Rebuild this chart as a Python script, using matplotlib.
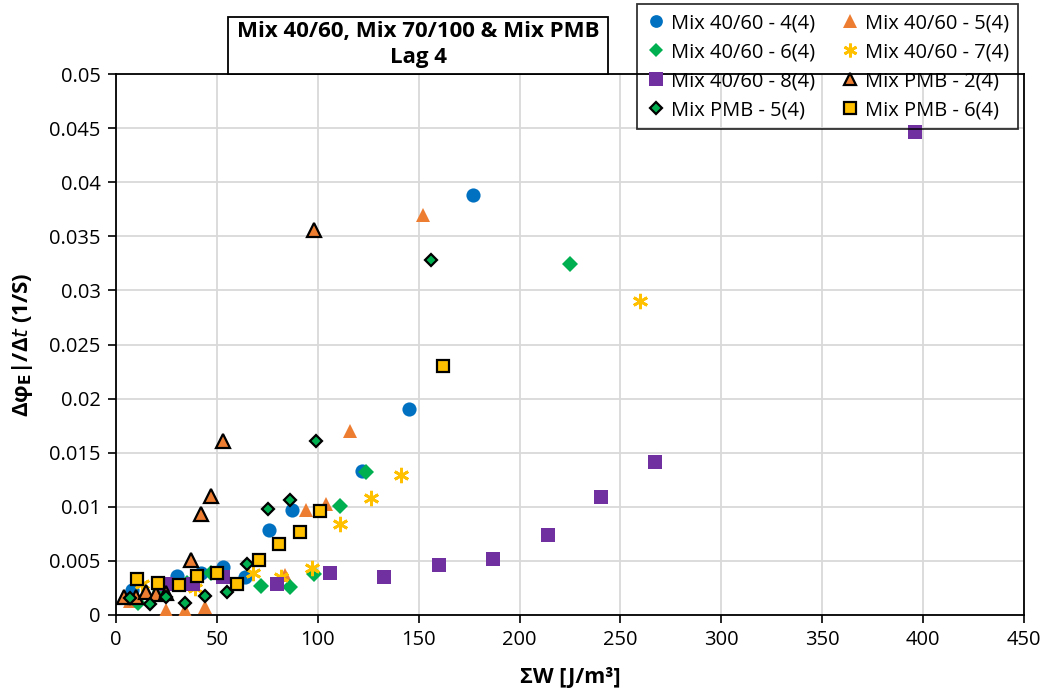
import matplotlib
matplotlib.use("Agg")
import matplotlib.pyplot as plt
from matplotlib.patches import Rectangle

plt.rcParams['font.family'] = ['Open Sans', 'DejaVu Sans']
plt.rcParams['mathtext.fontset'] = 'dejavusans'

# ---------------- data ----------------
m4_x = [8, 30, 42, 53, 64, 76, 87, 122, 145, 177]
m4_y = [0.0023, 0.0036, 0.0039, 0.0044, 0.0035, 0.0079, 0.0097, 0.0133, 0.0190, 0.0388]

m5_x = [7, 25, 34, 44, 84, 94, 104, 116, 152]
m5_y = [0.0013, 0.0005, 0.0005, 0.0007, 0.0037, 0.0097, 0.0103, 0.0170, 0.0370]

m6_x = [11, 22, 35, 47, 72, 86, 98, 111, 124, 225]
m6_y = [0.0011, 0.0022, 0.0030, 0.0039, 0.0027, 0.0026, 0.0038, 0.0101, 0.0132, 0.0324]

m7_x = [13, 39, 68, 82, 97, 111, 126.5, 141, 259.5]
m7_y = [0.0029, 0.0025, 0.0039, 0.0035, 0.0043, 0.0084, 0.0108, 0.0129, 0.0290]

m8_x = [25, 38, 53, 80, 106, 133, 160, 187, 214, 240.5, 267, 396]
m8_y = [0.0029, 0.0029, 0.0035, 0.0029, 0.0039, 0.0035, 0.0046, 0.0052, 0.0074, 0.0109, 0.0141, 0.0446]

p2_x = [4, 10, 15, 20, 25, 37, 42, 47, 53, 98]
p2_y = [0.0017, 0.0017, 0.0021, 0.0019, 0.0020, 0.0051, 0.0093, 0.0110, 0.0161, 0.0356]

p5_x = [7, 17, 25, 34, 44, 55, 65, 75.5, 86, 99, 156]
p5_y = [0.0016, 0.0010, 0.0017, 0.0011, 0.0018, 0.0021, 0.0047, 0.0098, 0.0106, 0.0161, 0.0328]

p6_x = [10.5, 21, 31, 40, 50, 60, 71, 81, 91, 101, 162]
p6_y = [0.0033, 0.0030, 0.0028, 0.0036, 0.0039, 0.0029, 0.0051, 0.0066, 0.0077, 0.0096, 0.0230]

labels = ["Mix 40/60 - 4(4)", "Mix 40/60 - 5(4)", "Mix 40/60 - 6(4)", "Mix 40/60 - 7(4)",
          "Mix 40/60 - 8(4)", "Mix PMB - 2(4)", "Mix PMB - 5(4)", "Mix PMB - 6(4)"]
x_ticks = [0, 50, 100, 150, 200, 250, 300, 350, 400, 450]
y_ticks = [0, 0.005, 0.01, 0.015, 0.02, 0.025, 0.03, 0.035, 0.04, 0.045, 0.05]
y_tick_labels = ["0", "0.005", "0.01", "0.015", "0.02", "0.025", "0.03", "0.035", "0.04", "0.045", "0.05"]

# ---------------- figure ----------------
W, H = 1046, 696
fig = plt.figure(figsize=(W / 100, H / 100), dpi=100)
ax = fig.add_axes([116 / W, 1 - 615 / H, (1024 - 116) / W, (615 - 74) / H])

star = (6, 2, 0)
series = [
    (m4_x, m4_y, dict(marker='o', color='#0070C0', ms=10.2, mec='#0070C0', mew=0)),
    (m5_x, m5_y, dict(marker='^', color='#ED7D31', ms=10.5, mec='#ED7D31', mew=0)),
    (m6_x, m6_y, dict(marker='D', color='#00B050', ms=7.8, mec='#00B050', mew=0)),
    (m7_x, m7_y, dict(marker=star, color='#FFC000', ms=11, mec='#FFC000', mew=2)),
    (m8_x, m8_y, dict(marker='s', color='#7030A0', ms=10.6, mec='#7030A0', mew=0)),
    (p2_x, p2_y, dict(marker='^', color='#ED7D31', ms=9.5, mec='black', mew=1.6)),
    (p5_x, p5_y, dict(marker='D', color='#00B050', ms=6.6, mec='black', mew=1.6)),
    (p6_x, p6_y, dict(marker='s', color='#FFC000', ms=9.0, mec='black', mew=1.6)),
]
handles = []
for (xs, ys, st), lab in zip(series, labels):
    h, = ax.plot(xs, ys, linestyle='none', label=lab, zorder=3, **st)
    handles.append(h)

ax.set_xlim(0, 450)
ax.set_ylim(0, 0.05)
ax.set_xticks(x_ticks)
ax.set_yticks(y_ticks)
ax.set_yticklabels(y_tick_labels)
ax.grid(True, color='#D9D9D9', lw=1.3, zorder=0)
ax.set_axisbelow(True)
for s in ax.spines.values():
    s.set_color('black')
    s.set_linewidth(1.3)
ax.tick_params(direction='out', length=6, width=1.2, labelsize=14.5, pad=5, colors='black')

ax.set_xlabel("ΣW [J/m³]", fontsize=15.5, fontweight='bold', labelpad=12)
ax.set_ylabel("Δφ$_\\mathbf{E}$|/Δ$\\mathit{t}$ (1/S)", fontsize=16,
              fontweight='bold', labelpad=10)

# title box
fig.patches.append(Rectangle((228 / W, 1 - 74 / H), 380 / W, 57 / H, transform=fig.transFigure,
                             fill=True, fc='white', ec='black', lw=1.3, zorder=5))
fig.text(418 / W, 1 - 31 / H, "Mix 40/60, Mix 70/100 & Mix PMB", ha='center', va='center',
         fontsize=16, fontweight='bold', zorder=6)
fig.text(418 / W, 1 - 57 / H, "Lag 4", ha='center', va='center',
         fontsize=16, fontweight='bold', zorder=6)

# legend (row-major order in reference -> column-major for matplotlib)
order = [0, 2, 4, 6, 1, 3, 5, 7]
leg = fig.legend([handles[i] for i in order], [labels[i] for i in order],
                 loc='upper left', bbox_to_anchor=(637 / W, 1 - 4 / H), bbox_transform=fig.transFigure,
                 ncol=2, fontsize=14.5, frameon=True, fancybox=False, borderaxespad=0,
                 handlelength=1.0, handletextpad=0.25, columnspacing=1.2, labelspacing=0.45,
                 borderpad=0.45, markerscale=0.9)
leg.get_frame().set_edgecolor('black')
leg.get_frame().set_facecolor('none')
leg.get_frame().set_linewidth(1.3)

fig.savefig("out.png", dpi=100)
